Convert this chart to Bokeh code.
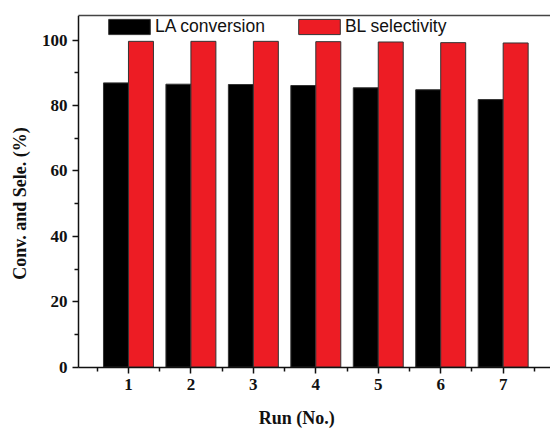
import math
from bokeh.plotting import figure
from bokeh.models import (Range1d, FixedTicker, LinearAxis, Legend, LegendItem,
                          Label, ColumnDataSource)
from bokeh.embed import file_html
from bokeh.resources import INLINE

runs = [1, 2, 3, 4, 5, 6, 7]
la_conversion = [86.9, 86.5, 86.4, 86.1, 85.4, 84.8, 81.8]
bl_selectivity = [99.6, 99.6, 99.6, 99.5, 99.4, 99.2, 99.1]
x_ticks = [1, 2, 3, 4, 5, 6, 7]
x_minor = [0.5, 1.5, 2.5, 3.5, 4.5, 5.5, 6.5, 7.5]
y_ticks = [0, 20, 40, 60, 80, 100]
y_minor = [10, 30, 50, 70, 90]

X0, X1 = 0.2, 7.758
Y0, Y1 = 0, 107.5

BW = 0.4
src = ColumnDataSource(dict(
    x_la=[r - BW / 2 for r in runs],
    x_bl=[r + BW / 2 for r in runs],
    la=la_conversion,
    bl=bl_selectivity,
))

# frame extends to the left and bottom edges; both axes are pinned inside it
p = figure(width=550, height=428, output_backend="svg", toolbar_location=None,
           x_range=Range1d(-1.049, X1), y_range=Range1d(-18.75, Y1),
           min_border_left=0, min_border_right=0, min_border_top=15,
           min_border_bottom=0, x_axis_location=None, y_axis_location=None)
p.outline_line_color = None
p.xgrid.visible = False
p.ygrid.visible = False
p.background_fill_color = "white"
p.border_fill_color = "white"

r_la = p.vbar(x="x_la", top="la", width=BW, bottom=0, source=src,
              fill_color="#000000", line_color="#333333", line_width=1)
r_bl = p.vbar(x="x_bl", top="bl", width=BW, bottom=0, source=src,
              fill_color="#ED1C24", line_color="#333333", line_width=1)

serif = "Liberation Serif"

xa = LinearAxis(ticker=FixedTicker(ticks=x_ticks, minor_ticks=x_minor),
                fixed_location=Y0, bounds=(X0, X1), major_label_standoff=6)
ya = LinearAxis(ticker=FixedTicker(ticks=y_ticks, minor_ticks=y_minor),
                fixed_location=X0, bounds=(Y0, Y1), major_label_standoff=5)
for ax in (xa, ya):
    ax.axis_line_color = "#111111"
    ax.axis_line_width = 1.5
    ax.major_tick_line_color = "#111111"
    ax.major_tick_line_width = 1.5
    ax.minor_tick_line_color = "#111111"
    ax.minor_tick_line_width = 1.5
    ax.major_tick_out = 6
    ax.major_tick_in = 0
    ax.minor_tick_out = 4
    ax.minor_tick_in = 0
    ax.major_label_text_font = serif
    ax.major_label_text_font_style = "bold"
    ax.major_label_text_font_size = "17px"
    ax.major_label_text_color = "#111111"
p.add_layout(xa, "below")
p.add_layout(ya, "left")

top = LinearAxis(ticker=FixedTicker(ticks=[]), major_label_text_font_size="0px",
                 major_tick_out=0, minor_tick_out=0, axis_line_color="#444444",
                 axis_line_width=1.5, bounds=(X0, X1))
p.add_layout(top, "above")

legend = Legend(items=[LegendItem(label="LA conversion", renderers=[r_la]),
                       LegendItem(label="BL selectivity", renderers=[r_bl])],
                orientation="horizontal", location=(103, 391.5),
                glyph_width=52, glyph_height=19, label_height=19,
                label_standoff=0, spacing=28, padding=0, margin=0,
                border_line_color=None, background_fill_alpha=0,
                label_text_font="Liberation Sans", label_text_font_size="17.5px",
                label_text_color="#111111")
p.add_layout(legend, "center")

p.add_layout(Label(x=3.696, y=-15.6, text="Run (No.)", text_align="center",
                   text_baseline="middle", text_font=serif,
                   text_font_style="bold", text_font_size="18px",
                   text_color="#111111"))
p.add_layout(Label(x=-0.74, y=50, text="Conv. and Sele. (%)", angle=math.pi / 2,
                   text_align="center", text_baseline="middle", text_font=serif,
                   text_font_style="bold", text_font_size="18px",
                   text_color="#111111"))

open("out.html", "w").write(file_html(p, INLINE))
